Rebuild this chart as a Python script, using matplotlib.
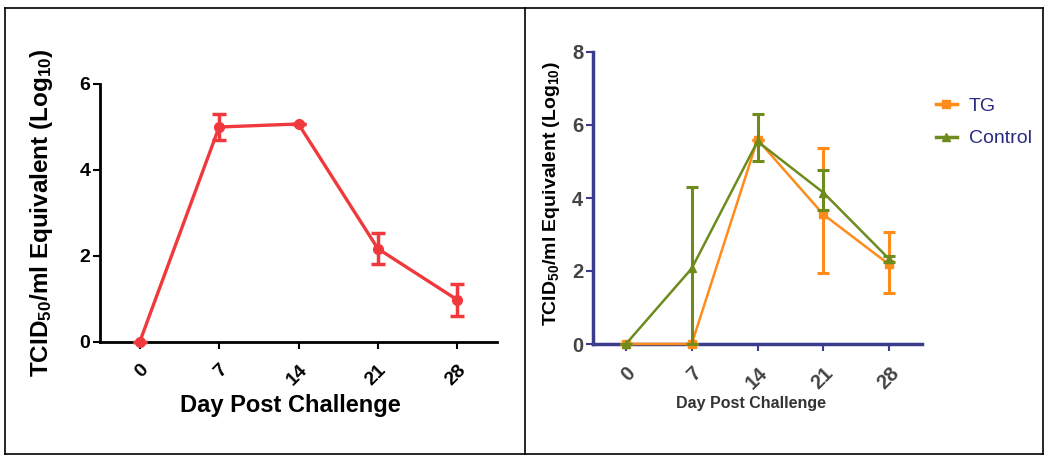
import numpy as np
import matplotlib
matplotlib.use("Agg")
import matplotlib.pyplot as plt
from matplotlib.lines import Line2D

plt.rcParams["mathtext.fontset"] = "custom"
plt.rcParams["mathtext.rm"] = "Liberation Sans:bold"
plt.rcParams["mathtext.bf"] = "Liberation Sans:bold"
plt.rcParams["mathtext.it"] = "Liberation Sans:bold"

# data
days = [0, 7, 14, 21, 28]
day_labels = ["0", "7", "14", "21", "28"]

# left panel
titre = [0.0, 5.0, 5.07, 2.17, 0.98]
titre_lo = [0.0, 0.3, 0.0, 0.36, 0.38]
titre_hi = [0.0, 0.3, 0.0, 0.36, 0.38]

# right panel
tg = [0.0, 0.0, 5.6, 3.55, 2.18]
tg_lo = [0.0, 0.0, 0.0, 1.61, 0.79]
tg_hi = [0.0, 0.0, 0.0, 1.81, 0.88]
ctrl = [0.0, 2.07, 5.55, 4.15, 2.33]
ctrl_lo = [0.0, 2.07, 0.54, 0.48, 0.08]
ctrl_hi = [0.0, 2.22, 0.75, 0.63, 0.08]

W, H = 1049, 458
fig = plt.figure(figsize=(W/100, H/100), dpi=100)

def box(x0, x1, y0, y1):
	# pixel -> figure fraction (y measured from top)
	return [x0/W, (H - y1)/H, (x1 - x0)/W, (y1 - y0)/H]

def fline(xs, ys):
	fig.add_artist(Line2D([x/W for x in xs], [(H - y)/H for y in ys],
		transform=fig.transFigure, color="black", lw=1.2))

# panel borders
fline([5, 1043], [8, 8])
fline([5, 1043], [454, 454])
fline([5, 5], [8, 454])
fline([525, 525], [8, 454])
fline([1043, 1043], [8, 454])

ylab = "TCID$_{\\mathbf{50}}$/ml Equivalent (Log$_{\\mathbf{10}}$)"
bold = dict(family="Liberation Sans", weight="bold")

### left panel
ax1 = fig.add_axes(box(100, 497, 84, 342))
red = "#F0393C"
ax1.errorbar(days, titre, yerr=[titre_lo, titre_hi], color=red, lw=2.4, marker="o",
	markersize=7, capsize=5, capthick=2.5, elinewidth=2.5, clip_on=False, zorder=3)
ax1.set_xlim(-3.5, 31.5)
ax1.set_ylim(0, 6)
ax1.set_yticks([0, 2, 4, 6])
ax1.set_xticks(days)
ax1.set_xticklabels(day_labels, rotation=45, ha="right", rotation_mode="anchor", fontsize=14, **bold)
for t in ax1.get_yticklabels():
	t.set_fontsize(14)
	t.set_fontweight("bold")
	t.set_family("Liberation Sans")
for s in ["top", "right"]:
	ax1.spines[s].set_visible(False)
for s in ["left", "bottom"]:
	ax1.spines[s].set_linewidth(2)
ax1.tick_params(width=1.5, length=5, pad=2)
ax1.tick_params(axis="x", pad=9)
ax1.set_ylabel(ylab, fontsize=17.5, **bold)
ax1.yaxis.set_label_coords(-0.113, 0.5)
ax1.set_xlabel("Day Post Challenge", fontsize=17, **bold)
ax1.xaxis.set_label_coords(0.479, -0.2)

### right panel
ax2 = fig.add_axes(box(593, 922, 52, 344))
orange = "#FF8C1A"
green = "#6E8B1E"
navy = "#3C3C8C"
grey = "#444444"
ax2.errorbar(days, tg, yerr=[tg_lo, tg_hi], color=orange, lw=1.8, marker="s",
	markersize=6, capsize=4, capthick=2.2, elinewidth=2.2, clip_on=False, zorder=3, label="TG")
ax2.errorbar(days, ctrl, yerr=[ctrl_lo, ctrl_hi], color=green, lw=1.8, marker="^",
	markersize=6, capsize=4, capthick=2.2, elinewidth=2.2, clip_on=False, zorder=4, label="Control")
ax2.set_xlim(-3.5, 31.5)
ax2.set_ylim(0, 8)
ax2.set_yticks([0, 2, 4, 6, 8])
ax2.set_xticks(days)
ax2.set_xticklabels(day_labels, rotation=45, ha="right", rotation_mode="anchor", fontsize=14.5, color=grey, **bold)
for t in ax2.get_yticklabels():
	t.set_fontsize(14.5)
	t.set_fontweight("bold")
	t.set_family("Liberation Sans")
	t.set_color(grey)
for s in ["top", "right"]:
	ax2.spines[s].set_visible(False)
for s in ["left", "bottom"]:
	ax2.spines[s].set_linewidth(2.5)
	ax2.spines[s].set_color(navy)
ax2.tick_params(width=1.5, length=5, pad=2, color=navy)
ax2.tick_params(axis="x", pad=9)
ax2.set_ylabel(ylab, fontsize=14, **bold)
ax2.yaxis.set_label_coords(-0.094, 0.515)
ax2.set_xlabel("Day Post Challenge", fontsize=11.5, color="#333333", **bold)
ax2.xaxis.set_label_coords(0.48, -0.178)

handles = [Line2D([0], [0], color=orange, lw=2.5, marker="s", markersize=6),
	Line2D([0], [0], color=green, lw=2.5, marker="^", markersize=6)]
leg = fig.legend(handles, ["TG", "Control"], loc="upper left",
	bbox_to_anchor=(918/W, (H - 80)/H), frameon=False, handlelength=1.1,
	handletextpad=0.6, labelspacing=0.75, prop=dict(family="Liberation Sans", size=14))
for t in leg.get_texts():
	t.set_color("#2A2A80")

plt.savefig("out.png", dpi=100)
